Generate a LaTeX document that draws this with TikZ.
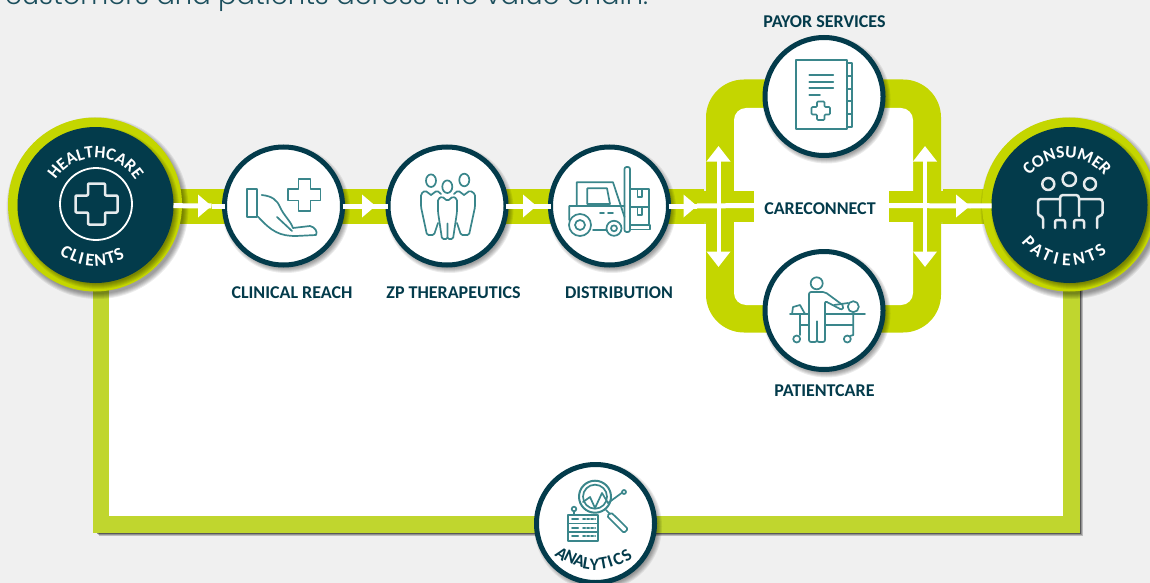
\documentclass[tikz,border=0pt]{standalone}
\usepackage{fontspec}
\setmainfont{Carlito}
\newfontfamily\topfont{Poppins Light}
\usetikzlibrary{arrows.meta,decorations.text,calc}
\definecolor{pagebg}{HTML}{F0F0F0}
\definecolor{darkteal}{HTML}{033B4B}
\definecolor{limeband}{HTML}{C4D600}
\definecolor{limeframe}{HTML}{C0D62E}
\definecolor{icont}{HTML}{3A868B}
\newcommand\softdisc[3]{\foreach \d in {5,4,3,2,1,0}{\fill[black,opacity=.075] (#1+2.5,#2-3) circle[radius=#3+\d];}}
\newcommand\topwhite{\fontsize{17.4}{18}\selectfont\bfseries\color{white}}
\tikzset{
  x=1pt,y=1pt,
  stepcircle/.style={circle,draw=darkteal,line width=5pt,fill=white,minimum size=118pt,inner sep=0pt,outer sep=0pt},
  bigdisc/.style={circle,fill=darkteal,minimum size=156pt,inner sep=0pt,outer sep=0pt},
  ringdisc/.style={circle,fill=limeband,minimum size=174pt,inner sep=0pt},
  lab/.style={font=\fontsize{18}{20}\selectfont\bfseries,text=darkteal,inner sep=0pt},
  letw/.style={font=\fontsize{18}{18}\selectfont\bfseries,text=white,inner sep=0pt},
  letd/.style={font=\fontsize{17.5}{18}\selectfont\bfseries,text=darkteal,inner sep=0pt},
  flow/.style={draw=white,line width=5pt},
  vflow/.style={draw=white,line width=4pt},
  flowtip/.style={-{Triangle[width=23pt,length=15.5pt]}},
  ico/.style={draw=icont,line width=1.7pt,line join=round,line cap=round},
  wico/.style={draw=white!90!darkteal,line width=2.5pt,line join=round,line cap=round},
}
\begin{document}
\begin{tikzpicture}
\useasboundingbox (0,0) rectangle (1150,-583);
\fill[pagebg] (0,0) rectangle (1150,-583);
\begin{scope}
\clip (0,0) rectangle (1150,-583);
\node[anchor=base west,inner sep=0pt,text=darkteal!90!white,font=\topfont\fontsize{27.3}{30}\selectfont] (headline) at (5,-4.7) {customers and patients across the value chain.};

% analytics frame
\foreach \d in {3,2.2,1.4,.6}{\fill[black,opacity=.22] (96+\d,-270) rectangle (1080+\d,-533-\d);}
\fill[limeframe] (93,-205) rectangle (1080,-533);
\fill[white] (109,-224) rectangle (1063,-516);

% main band
\fill[limeband] (170,-189) rectangle (704,-224);
\fill[limeband] (943,-189) rectangle (1000,-224);

% careconnect loop
\fill[limeband,rounded corners=38pt] (706,-79.5) rectangle (941,-332.5);
\fill[white,rounded corners=12pt] (734,-108) rectangle (913,-305);
\fill[limeband] (703,-190.5) rectangle (754,-222);
\fill[limeband] (889,-190.5) rectangle (945,-222);

% big discs
\softdisc{95}{-205}{86}
\softdisc{1069}{-205}{86}
\node[ringdisc] (hcring) at (95,-204.5) {};
\node[ringdisc] (csring) at (1069,-204.5) {};
\softdisc{95.5}{-205}{76}
\softdisc{1069.5}{-205}{76}
\node[bigdisc] (hc) at (95.5,-205) {};
\node[bigdisc] (cs) at (1069.5,-205) {};

% step circles
\foreach \px/\py in {283.5/-206,447/-206,609.5/-206,824/-96.5,824/-310.5,595.5/-523.5}{\softdisc{\px}{\py}{59}}
\node[stepcircle] (clin) at (283.5,-206) {};
\node[stepcircle] (zp) at (447,-206) {};
\node[stepcircle] (dist) at (609.5,-206) {};
\node[stepcircle] (payor) at (824,-96.5) {};
\node[stepcircle] (pcare) at (824,-310.5) {};
\node[stepcircle] (anl) at (595.5,-523.5) {};

% connectors
\coordinate (a1) at (211.5,-206);
\coordinate (a2) at (375.5,-206);
\coordinate (a3) at (536.5,-206);
\coordinate (a4) at (697,-206);
\coordinate (a5) at (970,-206);
\coordinate (stubL) at (754,-205.5);
\coordinate (stubR) at (889,-205.5);
\coordinate (hubL) at (720,-205.5);
\coordinate (hubR) at (925,-205.5);
\coordinate (upL) at (718.5,-146);
\coordinate (upR) at (925,-146);
\coordinate (dnL) at (718.5,-267);
\coordinate (dnR) at (925,-267);
\draw[flow] (hc) -- (a1);
\draw[flow] (a1) -- (clin);
\draw[flow] (clin) -- (a2);
\draw[flow] (a2) -- (zp);
\draw[flow] (zp) -- (a3);
\draw[flow] (a3) -- (dist);
\draw[flow] (dist) -- (a4);
\draw[flow] (a4) -- (stubL);
\draw[flow] (stubR) -- (a5);
\draw[flow] (a5) -- (cs);
\foreach \t/\b in {198/211.5,362/375.5,523/536.5,683.5/697,956/970}{\fill[white] (\t,-194.5) -- (\b,-206) -- (\t,-217.5) -- cycle;}
\draw[vflow,flowtip] (upL |- hubL) -- (upL);
\draw[vflow,flowtip] (hubR) -- (upR);
\draw[vflow,flowtip] (dnL |- hubL) -- (dnL);
\draw[vflow,flowtip] (hubR) -- (dnR);

% labels
\node[lab] (l1) at (292,-293) {CLINICAL REACH};
\node[lab] (l2) at (453.5,-293) {ZP THERAPEUTICS};
\node[lab] (l3) at (619,-293) {DISTRIBUTION};
\node[lab] (l4) at (824.5,-22) {PAYOR SERVICES};
\node[lab] (l5) at (820,-209) {CARECONNECT};
\node[lab] (l6) at (824.5,-391) {PATIENTCARE};

% curved text
\path[decorate,decoration={text along path,text align=center,text={|\topwhite|HEALTHCARE}}] (95.5,-205) ++(170:47) arc[start angle=170,end angle=10,radius=47];
\path[decorate,decoration={text along path,text align=center,text={|\topwhite|CONSUMER}}] (1067,-205) ++(170:47) arc[start angle=170,end angle=10,radius=47];
\foreach \ch/\ang [count=\i] in {C/238,L/248,I/255,E/264,N/275,T/286,S/295}
  {\node[letw,rotate=\ang+90] (clt\i) at ($(95.5,-205)+(\ang:55)$) {\ch};}
\foreach \ch/\ang [count=\i] in {P/222,A/234,T/246,I/256,E/267,N/280,T/293,S/304}
  {\node[letw,rotate=\ang+90] (pat\i) at ($(1069.5,-205)+(\ang:55)$) {\ch};}
\foreach \ch/\lx/\ly/\rt [count=\i] in {A/561.7/-554/-36,N/570.7/-557.3/-27,A/579.3/-560.7/-18,L/586.7/-563.3/-9,Y/594.5/-565/0,T/603.5/-563.3/10,I/610/-561.7/18,C/618/-559.3/26,S/626.5/-555/35}
  {\node[letd,rotate=\rt] (anl\i) at (\lx,\ly) {\ch};}

% healthcare icon
\draw[white,line width=1.8pt] (96,-204) circle[radius=36];
\draw[wico,rounded corners=1pt] (88,-183.5) -- (105,-183.5) -- (105,-195.5) -- (117.5,-195.5) -- (117.5,-212.5) -- (105,-212.5) -- (105,-224.5) -- (88,-224.5) -- (88,-212.5) -- (75.5,-212.5) -- (75.5,-195.5) -- (88,-195.5) -- cycle;

% consumer icon
\draw[wico] (1069.3,-179.3) circle[radius=6.7];
\draw[wico] (1048.3,-184) circle[radius=6];
\draw[wico] (1090,-184) circle[radius=6];
\draw[wico,rounded corners=3pt] (1060,-199) -- (1038,-199) -- (1038,-216) -- (1043,-216) -- (1043,-228);
\draw[wico,rounded corners=3pt] (1079,-199) -- (1102.5,-199) -- (1102.5,-216) -- (1097,-216) -- (1097,-228);
\draw[wico,rounded corners=3pt] (1060,-216) -- (1060,-195) -- (1079,-195) -- (1079,-216);
\draw[wico,rounded corners=2pt] (1055,-228) -- (1055,-220) -- (1065,-220) -- (1065,-228);
\draw[wico,rounded corners=2pt] (1074,-228) -- (1074,-220) -- (1084,-220) -- (1084,-228);

% clinical icon
\draw[ico] (247.3,-189.3) rectangle (257,-216.7);
\draw[ico] (298.5,-179) -- (310.5,-179) -- (310.5,-189) -- (320.5,-189) -- (320.5,-200.5) -- (310.5,-200.5) -- (310.5,-211) -- (298.5,-211) -- (298.5,-200.5) -- (288,-200.5) -- (288,-189) -- (298.5,-189) -- cycle;
\draw[ico] (261.7,-195) .. controls (272,-196) and (277,-200) .. (280,-207) .. controls (284,-216) and (290,-220) .. (293,-228) -- (310,-226) .. controls (315,-227) and (318,-232) .. (316,-235) -- (296,-236) .. controls (280,-236) and (272,-232) .. (258,-216.7);
\draw[ico] (277,-217) -- (292,-231);

% ZP icon
\foreach \hx/\hy in {431/-180.7,447.3/-186.7,464.3/-180}{\draw[ico] (\hx,\hy) ellipse[x radius=5,y radius=6.3];}
\draw[ico,rounded corners=1.5pt] (447.5,-201) -- (442,-196.5) -- (438,-199) -- (438,-212) -- (442,-239) -- (447.5,-239) -- (447.5,-222) -- (447.5,-239) -- (453,-239) -- (457,-212) -- (457,-199) -- (453,-196.5) -- cycle;
\draw[ico,rounded corners=1.5pt] (431,-195) -- (425,-190.5) -- (421,-194) -- (421,-207) -- (427,-235) -- (434,-235) -- (438,-223);
\draw[ico,rounded corners=1.5pt] (431,-195) -- (437,-190.5) -- (441,-194);
\draw[ico,rounded corners=1.5pt] (464,-195) -- (458,-190.5) -- (454,-194);
\draw[ico,rounded corners=1.5pt] (464,-195) -- (470,-190.5) -- (475,-194) -- (475,-207) -- (469,-235) -- (461,-235) -- (457,-223);

% forklift icon
\draw[ico,rounded corners=2pt] (624.5,-167) rectangle (630,-232);
\draw[ico] (630,-225) rectangle (650,-229.5);
\draw[ico] (630,-189.3) rectangle (649.3,-207.3);
\draw[ico] (630,-207.3) rectangle (649,-225);
\draw[ico] (637.5,-189.3) -- (637.5,-197) -- (642,-197) -- (642,-189.3);
\draw[ico] (637.5,-207.3) -- (637.5,-215) -- (642,-215) -- (642,-207.3);
\draw[ico] (576.7,-206) -- (576.7,-182.3) -- (613,-182.3) -- (624.5,-217) (569.3,-220) -- (569.3,-206) -- (624.5,-206);
\draw[ico] (587.3,-188.3) -- (607,-188.3) -- (610,-204) -- (587.3,-204) -- cycle;
\draw[ico] (580,-225) circle[radius=11];
\draw[ico] (580,-225) circle[radius=5];
\draw[ico] (614,-228.3) circle[radius=7.5];
\draw[ico] (614,-228.3) circle[radius=3];
\draw[ico] (593,-230) -- (606,-230);
\draw[ico] (600,-212.7) -- (604,-212.7) (608,-212.7) -- (613,-212.7);

% payor icon
\draw[ico] (795.7,-60) rectangle (846.7,-129);
\draw[ico] (846.7,-62.7) -- (851.7,-62.7) -- (851.7,-126.7) -- (846.7,-126.7) (846.7,-76) -- (851.7,-76) (846.7,-89) -- (851.7,-89) (846.7,-101) -- (851.7,-101) (846.7,-114) -- (851.7,-114);
\draw[ico] (809.3,-75) -- (833.3,-75) (809.3,-81.7) -- (833.3,-81.7) (809.3,-88.3) -- (833.3,-88.3) (809.3,-95) -- (820,-95);
\draw[ico,rounded corners=1pt] (817,-101.5) -- (824.5,-101.5) -- (824.5,-107) -- (830,-107) -- (830,-114.5) -- (824.5,-114.5) -- (824.5,-120) -- (817,-120) -- (817,-114.5) -- (811.5,-114.5) -- (811.5,-107) -- (817,-107) -- cycle;

% patientcare icon
\draw[ico] (816.7,-283.3) circle[radius=6];
\draw[ico,rounded corners=2pt] (809,-342) -- (809,-300) -- (809,-292) -- (825,-292) -- (844,-306) -- (842,-310) -- (825,-301) -- (825,-342) -- (817,-342) -- (817,-320) -- (817,-342) -- cycle;
\draw[ico] (790,-314) -- (809,-314) (825,-314) -- (865,-314);
\draw[ico] (800,-325) -- (809,-325) (825,-325) -- (853,-325);
\draw[ico] (800,-314) -- (800,-335) (853.3,-314) -- (853.3,-335) -- (850,-336);
\draw[ico] (796.7,-339) circle[radius=3.5];
\draw[ico] (847.3,-339) circle[radius=3.5];
\draw[ico] (853.3,-306.7) circle[radius=5.5];
\draw[ico] (792,-314) -- (793,-307) -- (800,-305) -- (805,-314);
\draw[ico] (834,-305) -- (848,-303);

% analytics icon
\draw[ico,line width=2pt] (595,-496.7) circle[radius=16];
\draw[ico] (595,-496.7) circle[radius=12];
\draw[ico] (583,-502) -- (590,-497) -- (595,-508) -- (602,-493) -- (608,-503) -- (623,-492);
\fill[white] (624,-492) circle[radius=2];
\draw[ico] (624,-492) circle[radius=2];
\draw[ico] (606,-510) -- (610,-514);
\draw[ico,rounded corners=1.5pt] (611,-512.5) -- (617,-518) -- (628,-529) -- (624,-533) -- (613,-522) -- (607,-516) -- cycle;
\draw[ico,line width=2pt] (568.3,-515) rectangle (598.3,-540.7);
\draw[ico] (568.3,-523.5) -- (598.3,-523.5) (568.3,-532) -- (598.3,-532);
\foreach \ry in {-519.3,-527.8,-536.3}{\draw[ico,line width=2pt] (572,\ry) -- (578,\ry);\draw[ico,line width=2pt,dotted] (583,\ry) -- (595,\ry);}
\draw[ico] (574,-509) circle[radius=2.3];
\draw[ico] (574,-511) -- (574,-515);
\end{scope}
\end{tikzpicture}
\end{document}
